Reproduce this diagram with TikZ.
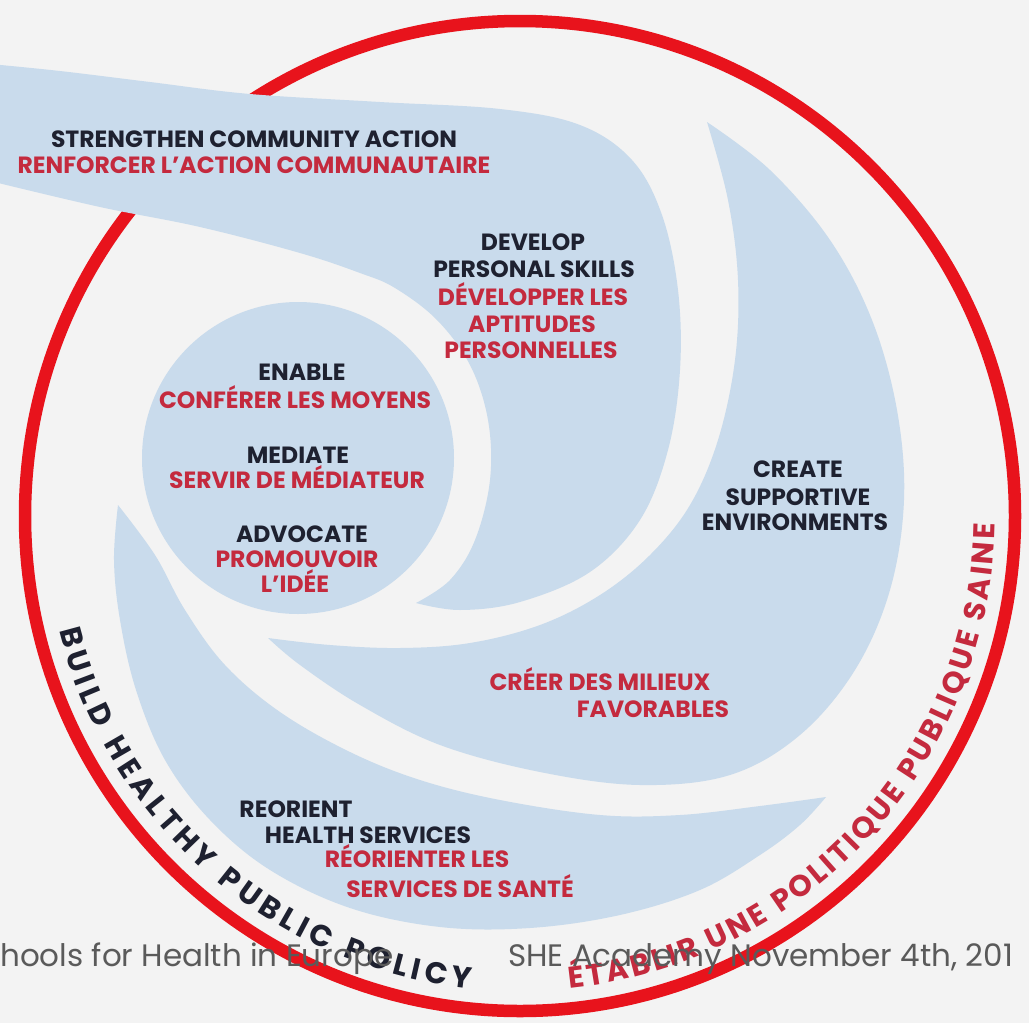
\documentclass[tikz,border=0pt]{standalone}
\usepackage{fontspec}
\setmainfont{Poppins}
\usetikzlibrary{decorations.text}

\definecolor{paper}{HTML}{F3F3F3}
\definecolor{wing}{HTML}{C9DBEC}
\definecolor{ringred}{HTML}{E8131C}
\definecolor{inkdark}{HTML}{1E2130}
\definecolor{inkred}{HTML}{C42A3E}
\definecolor{footgray}{HTML}{5A5A5A}

\begin{document}
\begin{tikzpicture}[x=1pt,y=-1pt,
  en/.style={font=\bfseries\fontsize{23.5}{23.5}\selectfont, text=inkdark, inner sep=0pt, anchor=base},
  fr/.style={font=\bfseries\fontsize{23.5}{23.5}\selectfont, text=inkred, inner sep=0pt, anchor=base},
  wingfill/.style={fill=wing},
  foot/.style={font=\fontsize{31}{31}\selectfont, text=footgray, inner sep=0pt, anchor=base west}]

% page
\fill[paper] (0,0) rectangle (1029,1023);
\useasboundingbox (0,0) rectangle (1029,1023);

% outer red ring
\coordinate (O) at (520,516);
\draw[ringred, line width=12.5pt] (O) circle[radius=495];

% central ball
\fill[wingfill] (298,458) circle[radius=156];

% upper wing: community action / personal skills (crosses the ring)
\fill[wingfill]
  plot[smooth, tension=0.6] coordinates {(-10,64) (60,71) (150,82) (250,94) (380,102) (500,109) (580,125) (632,160) (662,215) (678,290) (680,370) (668,450) (640,520) (590,572) (520,602) (460,610) (416,603)}
  -- plot[smooth, tension=0.6] coordinates {(416,603) (450,580) (475,540) (490,480) (488,420) (470,365) (437,320) (395,288) (360,273) (300,253) (200,227) (100,207) (-10,181)}
  -- cycle;

% right wing: supportive environments
\fill[wingfill]
  plot[smooth, tension=0.6] coordinates {(707,122) (770,170) (830,240) (872,320) (897,410) (904,500) (890,590) (855,670) (800,735) (730,775) (640,785) (540,772) (440,745) (360,705) (300,665) (268,638)}
  -- plot[smooth, tension=0.6] coordinates {(268,638) (330,645) (400,648) (470,643) (540,625) (600,595) (650,555) (690,505) (718,440) (735,360) (738,280) (728,200) (707,122)}
  -- cycle;

% lower wing: health services
\fill[wingfill]
  plot[smooth, tension=0.6] coordinates {(118,505) (114,560) (120,620) (136,690) (165,760) (210,820) (270,870) (350,908) (440,927) (530,928) (620,915) (700,890) (760,855) (800,825) (826,797)}
  -- plot[smooth, tension=0.6] coordinates {(826,797) (760,806) (680,815) (600,815) (500,800) (420,780) (350,752) (280,712) (225,665) (185,610) (155,555) (118,505)}
  -- cycle;

% labels of the upper wing
\node[en] (sca) at (254,147) {STRENGTHEN COMMUNITY ACTION};
\node[fr] (rac) at (254,173) {RENFORCER L'ACTION COMMUNAUTAIRE};
\node[en] (dev) at (533,250) {DEVELOP};
\node[en] (pss) at (534,277) {PERSONAL SKILLS};
\node[fr] (dvl) at (533,305) {DÉVELOPPER LES};
\node[fr] (apt) at (532,332) {APTITUDES};
\node[fr] (per) at (531,358) {PERSONNELLES};

% labels of the ball
\node[en] (ena) at (302,380) {ENABLE};
\node[fr] (cfm) at (295,408) {CONFÉRER LES MOYENS};
\node[en] (med) at (298,463) {MEDIATE};
\node[fr] (sdm) at (297,488) {SERVIR DE MÉDIATEUR};
\node[en] (adv) at (302,542) {ADVOCATE};
\node[fr] (pro) at (297,567) {PROMOUVOIR};
\node[fr] (idee) at (295,592) {L'IDÉE};

% labels of the right wing
\node[en] (cre) at (798,477) {CREATE};
\node[en] (sup) at (798,505) {SUPPORTIVE};
\node[en] (env) at (795,530) {ENVIRONMENTS};
\node[fr] (cdm) at (600,690) {CRÉER DES MILIEUX};
\node[fr] (fav) at (653,717) {FAVORABLES};

% labels of the lower wing
\node[en] (reo) at (296,817) {REORIENT};
\node[en] (hse) at (368,843) {HEALTH SERVICES};
\node[fr] (rls) at (417,867) {RÉORIENTER LES};
\node[fr] (sds) at (460,897) {SERVICES DE SANTÉ};

% lettering along the ring
\path[decorate, decoration={text along path, text color=inkdark,
    text={|\bfseries\fontsize{30}{30}\selectfont|BUILD HEALTHY PUBLIC POLICY},
    text align={fit to path}}]
  (O) ++(166:475) arc[start angle=166, end angle=96, radius=475];
\path[decorate, decoration={text along path, text color=inkred,
    text={|\bfseries\fontsize{30}{30}\selectfont|ÉTABLIR UNE POLITIQUE PUBLIQUE SAINE},
    text align={fit to path}}]
  (O) ++(84:475) arc[start angle=84, end angle=1, radius=475];

% footer line
\node[foot] (fl) at (0,966) {hools for Health in Europe};
\node[foot] (fr) at (508,966) {SHE Academy November 4th, 201};
\end{tikzpicture}
\end{document}
